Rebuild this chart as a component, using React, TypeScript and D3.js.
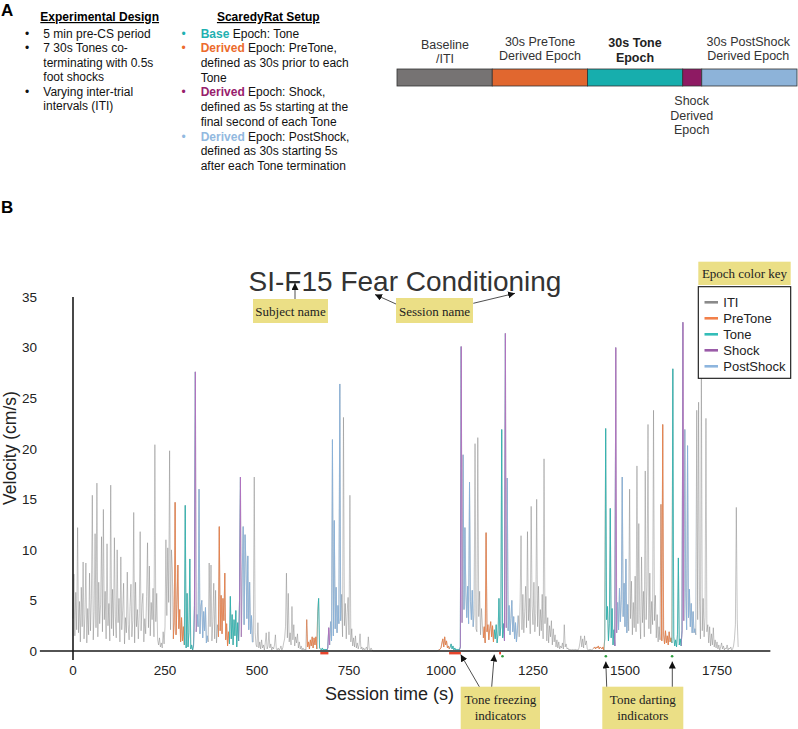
import React from 'react';
import * as d3 from 'd3';

// ---------------- DATA ----------------
const STEP = 2.5; // seconds between samples
// velocity (cm/s), one value every 2.5 s
const vel0000 = [
  3.2, 7.6, 1.5, 5.8, 2.1, 12.2, 1.8, 4.9, 0.9, 6.3,
  2.4, 8.8, 1.2, 3.6, 8.7, 0.8, 4.2, 1.6, 7.7, 2.0,
  5.1, 15.4, 1.1, 3.9, 11.6, 2.3, 16.6, 1.4, 6.8, 2.7,
  4.6, 11.3, 1.9, 14.0, 3.1, 5.9, 1.2, 10.6, 2.5, 4.7,
  1.0, 16.4, 2.2, 6.1, 1.5, 11.2, 3.4, 1.3, 10.0, 2.8,
  5.2, 0.9, 9.3, 2.1, 4.0, 6.7, 0.7, 3.3, 1.8, 7.8,
  2.6, 1.1, 4.4, 6.6, 1.4, 3.0, 13.7, 0.8, 6.8, 2.4,
  4.1, 1.2, 3.7, 11.8, 2.0, 4.6, 5.7, 0.9, 3.2, 1.7,
  5.4, 10.7, 2.3, 8.4, 1.5, 4.8, 3.1, 6.2, 1.4, 20.4,
  2.9, 5.7, 1.1, 0.6, 1.3, 0.4, 0.8, 0.3, 1.9, 0.7,
];
const vel0250 = [
  2.4, 11.0, 3.5, 10.2, 4.8, 19.8, 2.1, 10.0, 7.9, 1.2,
  2.8, 14.7, 1.6, 4.6, 8.5, 2.2, 4.1, 0.9, 3.3, 1.0,
  2.4, 0.6, 14.4, 0.3, 5.7, 0.4, 1.8, 9.1, 0.2, 0.6,
  0.1, 0.5, 4.5, 27.6, 1.9, 3.6, 2.4, 16.0, 1.7, 4.4,
  5.0, 1.3, 3.9, 2.0, 4.3, 0.8, 1.5, 0.9, 8.7, 2.4,
  8.5, 1.0, 2.9, 6.7, 1.2, 6.0, 0.8, 2.6, 1.4, 12.3,
  2.0, 5.5, 1.7, 5.2, 3.0, 7.7, 1.1, 2.7, 0.5, 1.9,
  0.7, 5.4, 1.2, 3.6, 0.6, 3.1, 1.5, 4.0, 0.4, 2.8,
  1.0, 5.0, 17.2, 1.4, 7.9, 12.3, 2.6, 11.5, 8.6, 3.2,
  9.4, 2.1, 6.8, 1.7, 3.5, 0.9, 0.9, 17.2, 1.8, 0.6,
];
const vel0500 = [
  0.4, 2.8, 0.3, 0.9, 0.2, 1.1, 0.3, 0.6, 0.1, 0.8,
  1.8, 0.2, 0.5, 1.9, 0.3, 0.7, 0.1, 0.4, 0.2, 0.6,
  1.6, 0.2, 0.1, 0.3, 0.1, 0.2, 0.5, 0.1, 0.3, 0.8,
  1.2, 2.4, 7.7, 1.3, 5.7, 0.9, 1.8, 0.6, 4.4, 1.1,
  2.6, 0.5, 1.4, 0.8, 1.7, 0.3, 0.9, 0.2, 0.5, 0.1,
  0.3, 0.1, 0.2, 0.1, 3.1, 0.4, 0.9, 0.2, 1.1, 0.5,
  1.4, 0.3, 1.3, 0.6, 1.4, 0.2, 3.9, 5.2, 0.3, 0.2,
  0.1, 0.3, 0.1, 0.2, 0.1, 0.2, 0.1, 0.3, 2.3, 0.6,
  2.9, 1.0, 20.9, 1.5, 12.9, 2.2, 6.3, 1.8, 4.5, 2.7,
  26.4, 3.0, 5.6, 1.4, 23.1, 2.5, 4.7, 1.2, 3.8, 5.3,
];
const vel0750 = [
  1.6, 15.4, 0.9, 2.2, 0.5, 1.3, 0.4, 1.5, 0.3, 0.8,
  0.2, 0.6, 1.7, 0.2, 0.4, 0.1, 0.3, 0.1, 0.2, 0.4,
  0.1, 1.4, 0.2, 0.1, 0.3, 0.1, 0, 0, 0, 0,
  0, 0, 0, 0, 0, 0, 0, 0, 0, 0,
  0, 0, 0, 0, 0, 0, 0, 0, 0, 0,
  0, 0, 0, 0, 0, 0, 0, 0, 0, 0,
  0, 0, 0, 0, 0, 0, 0, 0, 0, 0,
  0, 0, 0, 0, 0, 0, 0, 0, 0, 0,
  0, 0, 0, 0, 0, 0, 0, 0, 0, 0,
  0, 0, 0, 0, 0, 0, 0, 0.1, 0.1, 0.2,
];
const vel1000 = [
  0.3, 0.8, 1.2, 0.4, 1.4, 0.6, 1.0, 0.3, 0.5, 0.2,
  0.4, 0.7, 0.2, 0.5, 0.1, 0.3, 0.1, 0.2, 0.1, 0.2,
  0.1, 0.4, 30.1, 2.8, 19.4, 4.1, 12.2, 5.8, 3.3, 6.4,
  2.7, 16.7, 4.9, 3.1, 6.0, 2.4, 3.6, 20.5, 2.2, 1.9,
  21.1, 3.4, 5.9, 1.6, 4.2, 2.5, 1.3, 2.4, 0.8, 11.7,
  1.9, 2.6, 1.1, 2.2, 2.9, 1.4, 2.5, 0.9, 2.1, 1.2,
  2.6, 0.8, 1.7, 5.2, 1.5, 2.4, 21.9, 1.3, 2.7, 1.0,
  31.4, 2.3, 17.1, 2.0, 4.5, 1.6, 3.2, 5.0, 1.9, 3.4,
  1.2, 2.8, 0.9, 2.0, 3.5, 1.4, 4.8, 11.4, 2.1, 5.6,
  1.8, 3.9, 6.4, 2.3, 11.8, 3.0, 5.2, 1.7, 14.3, 4.4,
];
const vel1250 = [
  2.6, 6.8, 1.9, 3.7, 15.0, 2.4, 6.4, 1.5, 4.1, 2.0,
  5.6, 1.2, 19.0, 2.7, 5.4, 1.0, 3.3, 0.8, 2.5, 1.4,
  3.0, 0.6, 2.2, 0.9, 1.6, 0.4, 1.1, 0.3, 0.9, 0.2,
  0.5, 0.3, 0.8, 0.2, 2.6, 0.4, 0.7, 0.2, 0.3, 0.1,
  0.2, 0.1, 0.1, 0.2, 0.1, 0.1, 0.2, 0.1, 0.1, 0.1,
  0.3, 0.8, 1.5, 0.4, 1.2, 0.3, 1.5, 0.6, 1.0, 0.2,
  0.1, 0.1, 0.2, 0.1, 0.1, 0.2, 0.3, 0.4, 0.2, 0.4,
  0.3, 0.5, 0.2, 0.4, 0.3, 0.2, 0.4, 0.1, 1.2, 22.0,
  3.1, 4.4, 1.0, 2.7, 14.1, 1.3, 4.2, 0.6, 2.1, 0.5,
  30.0, 1.8, 4.8, 2.1, 6.2, 2.9, 5.1, 17.2, 3.4, 6.7,
];
const vel1500 = [
  2.4, 9.1, 1.8, 4.6, 2.0, 16.0, 3.2, 6.9, 1.6, 4.8,
  2.3, 7.4, 1.9, 18.3, 2.7, 12.6, 3.5, 1.2, 9.3, 2.8,
  5.9, 1.4, 17.8, 3.1, 6.5, 22.4, 2.2, 7.7, 1.7, 4.9,
  2.6, 23.8, 3.0, 5.5, 1.3, 3.6, 0.9, 2.4, 1.1, 14.5,
  1.0, 22.4, 1.6, 0.7, 2.0, 0.8, 1.5, 0.6, 1.9, 0.9,
  1.3, 0.8, 27.9, 1.4, 0.5, 1.1, 0.4, 1.6, 9.2, 0.6,
  1.2, 0.5, 2.0, 32.5, 3.0, 21.9, 5.8, 2.1, 20.3, 3.3,
  6.1, 2.4, 4.7, 1.8, 3.9, 1.8, 2.2, 1.6, 23.8, 3.1,
  24.6, 4.9, 1.2, 28.5, 2.0, 5.2, 1.4, 3.3, 23.0, 1.9,
  2.6, 0.8, 2.4, 0.5, 1.7, 0.6, 2.3, 0.4, 1.1, 0.3,
];
const vel1750 = [
  0.9, 0.2, 0.6, 0.1, 0.4, 0.8, 0.2, 0.5, 0.1, 0.3,
  0.2, 0.6, 0.1, 0.3, 0.2, 0.4, 0.1, 0.2, 0.5, 1.2,
  2.6, 14.2, 3.1, 0.4,
];
const velocity = [...vel0000, ...vel0250, ...vel0500, ...vel0750, ...vel1000, ...vel1250, ...vel1500, ...vel1750];

const toneOnsets = [301.5, 424, 664, 1024, 1144, 1444, 1626.5];
const epochNames = ['PreTone', 'Tone', 'PostShock', 'Shock'];
const epochStart = [-30, 0, 35, 29]; // relative to tone onset (s)
const epochEnd = [0, 30, 65, 34];
const epochColors = ['#f07a3e', '#22b4af', '#86b2df', '#b070c0'];
const epochOpacity = [0.8, 0.8, 0.8, 1];

const legendLabels = ['ITI', 'PreTone', 'Tone', 'Shock', 'PostShock'];
const legendColors = ['#8a8a8a', '#f2804a', '#33bdb8', '#9a5ba8', '#8db5de'];

const freezingBouts = [[672, 694], [1022, 1054], [1158, 1163]];
const dartingTimes = [1167, 1448, 1628];

const xTicks = [0, 250, 500, 750, 1000, 1250, 1500, 1750];
const yTicks = [0, 5, 10, 15, 20, 25, 30, 35];
const xAxisExtent = [-90, 1895];
const yAxisExtent = [-0.9, 35];

// epoch bar schematic (relative widths)
const barWidths = [30, 30, 30, 6, 30];
const barColors = ['#767373', '#e1672f', '#17aead', '#8e1a63', '#8db3d9'];

const designLines = [
  { b: true, t: '5 min pre-CS period' },
  { b: true, t: '7 30s Tones co-' },
  { b: false, t: 'terminating with 0.5s' },
  { b: false, t: 'foot shocks' },
  { b: true, t: 'Varying inter-trial' },
  { b: false, t: 'intervals (ITI)' },
];
const setupLines = [
  { c: '#1fb1b1', lead: 'Base', t: ' Epoch: Tone' },
  { c: '#ec6b2d', lead: 'Derived', t: ' Epoch: PreTone,' },
  { c: null, lead: '', t: 'defined as 30s prior to each' },
  { c: null, lead: '', t: 'Tone' },
  { c: '#98206c', lead: 'Derived', t: ' Epoch: Shock,' },
  { c: null, lead: '', t: 'defined as 5s starting at the' },
  { c: null, lead: '', t: 'final second of each Tone' },
  { c: '#92b9e0', lead: 'Derived', t: ' Epoch: PostShock,' },
  { c: null, lead: '', t: 'defined as 30s starting 5s' },
  { c: null, lead: '', t: 'after each Tone termination' },
];

// ---------------- CHART ----------------
const SANS = '"Liberation Sans", Arial, Helvetica, sans-serif';
const SERIF = '"Liberation Serif", "Times New Roman", serif';
const YELLOW = '#ebdf86';

export default function App() {
  const x = d3.scaleLinear().domain([0, 1750]).range([73, 717]);
  const y = d3.scaleLinear().domain([0, 35]).range([651, 297]);
  const line = d3.line<number>().x((_, i) => x(i * STEP)).y((d) => y(d));
  const tracePath = line(velocity) || '';

  const barX = d3.scaleLinear().domain([0, d3.sum(barWidths)]).range([397, 797]);
  const barCum = barWidths.map((_, i) => d3.sum(barWidths.slice(0, i)));

  // clip window for an epoch; the shock window is padded by one sample on its leading side
  const clipRange = (on: number, k: number): [number, number] => {
    const pad = epochNames[k] === 'Shock' ? STEP : 0;
    return [x(on + epochStart[k] - pad), x(on + epochEnd[k])];
  };

  const annBox = (x0: number, y0: number, w: number, h: number, lines: string[], baselines: number[]) => (
    <g>
      <rect x={x0} y={y0} width={w} height={h} fill={YELLOW} />
      {lines.map((l, i) => (
        <text key={i} x={x0 + w / 2} y={baselines[i]} textAnchor="middle" fontFamily={SERIF} fontSize={13} fill="#222">{l}</text>
      ))}
    </g>
  );
  const arrow = (x1: number, y1: number, x2: number, y2: number, k: string) => (
    <line key={k} x1={x1} y1={y1} x2={x2} y2={y2} stroke="#222" strokeWidth={0.8} markerEnd="url(#ah)" />
  );

  return (
    <svg width={798} height={729} style={{ position: 'absolute', left: 0, top: 0, background: '#fff' }}>
      <defs>
        <marker id="ah" viewBox="0 0 10 10" refX="10" refY="5" markerWidth="7" markerHeight="7" markerUnits="userSpaceOnUse" orient="auto">
          <path d="M0,0 L10,5 L0,10 z" fill="#111" />
        </marker>
        {epochNames.map((n, k) => (
          <clipPath id={`clip-${n}`} key={n}>
            {toneOnsets.map((on, j) => {
              const [a, b] = clipRange(on, k);
              return <rect key={j} x={a} y={0} width={b - a} height={729} />;
            })}
          </clipPath>
        ))}
      </defs>

      {/* ---------- Panel A ---------- */}
      <text x={1} y={16} fontFamily={SANS} fontWeight="bold" fontSize={17}>A</text>
      <text x={99.7} y={21} textAnchor="middle" fontFamily={SANS} fontWeight="bold" fontSize={12} style={{ textDecoration: 'underline' }}>Experimental Design</text>
      {designLines.map((l, i) => (
        <g key={i}>
          {l.b && <text x={25} y={37.5 + i * 14.5} fontFamily={SANS} fontSize={12} fill="#111">•</text>}
          <text x={43.3} y={37.5 + i * 14.5} fontFamily={SANS} fontSize={12} fill="#111">{l.t}</text>
        </g>
      ))}
      <text x={268.3} y={21} textAnchor="middle" fontFamily={SANS} fontWeight="bold" fontSize={12} style={{ textDecoration: 'underline' }}>ScaredyRat Setup</text>
      {setupLines.map((l, i) => (
        <g key={i}>
          {l.c && <text x={181.5} y={37.6 + i * 14.7} fontFamily={SANS} fontSize={12} fill={l.c}>•</text>}
          <text x={200.7} y={37.6 + i * 14.7} fontFamily={SANS} fontSize={12} fill="#111">
            {l.lead && <tspan fill={l.c || '#111'} fontWeight="bold">{l.lead}</tspan>}
            <tspan>{l.t}</tspan>
          </text>
        </g>
      ))}

      {/* epoch schematic */}
      {barWidths.map((w, i) => (
        <rect key={i} x={barX(barCum[i])} y={69} width={barX(w) - barX(0)} height={17} fill={barColors[i]} stroke="#333" strokeWidth={0.8} />
      ))}
      <g fontFamily={SANS} fontSize={12.5} fill="#333" textAnchor="middle">
        <text x={445} y={48.5}>Baseline</text>
        <text x={445} y={62.5}>/ITI</text>
        <text x={540} y={45.5}>30s PreTone</text>
        <text x={540} y={60}>Derived Epoch</text>
        <text x={635} y={47} fontWeight="bold" fill="#222">30s Tone</text>
        <text x={635} y={61.5} fontWeight="bold" fill="#222">Epoch</text>
        <text x={748.3} y={45.5}>30s PostShock</text>
        <text x={748.3} y={60}>Derived Epoch</text>
        <text x={691.7} y={105}>Shock</text>
        <text x={691.7} y={119.5}>Derived</text>
        <text x={691.7} y={134}>Epoch</text>
      </g>

      {/* ---------- Panel B ---------- */}
      <text x={1} y={213} fontFamily={SANS} fontWeight="bold" fontSize={17}>B</text>
      <text x={405} y={291} textAnchor="middle" fontFamily={SANS} fontSize={28} fill="#333">SI-F15 Fear Conditioning</text>

      {/* traces */}
      <path d={tracePath} fill="none" stroke="#7a7a7a" strokeOpacity={0.55} strokeWidth={0.8} strokeLinejoin="round" />
      {epochNames.map((n, k) => (
        <path key={n} d={tracePath} fill="none" stroke={epochColors[k]} strokeOpacity={epochOpacity[k]} strokeWidth={0.9} strokeLinejoin="round" clipPath={`url(#clip-${n})`} />
      ))}

      {/* axes */}
      <line x1={x(xAxisExtent[0])} x2={x(xAxisExtent[1])} y1={y(0)} y2={y(0)} stroke="#1a1a1a" strokeWidth={1.6} />
      <line x1={x(0)} x2={x(0)} y1={y(yAxisExtent[0])} y2={y(yAxisExtent[1])} stroke="#1a1a1a" strokeWidth={1.6} />
      {xTicks.map((t) => (
        <text key={t} x={x(t)} y={674.5} textAnchor="middle" fontFamily={SANS} fontSize={13.5} fill="#222">{t}</text>
      ))}
      {yTicks.map((t) => (
        <text key={t} x={37} y={y(t) + 4.8} textAnchor="end" fontFamily={SANS} fontSize={13.5} fill="#222">{t}</text>
      ))}
      <text transform="translate(16,448) rotate(-90)" textAnchor="middle" fontFamily={SANS} fontSize={17.5} fill="#222">Velocity (cm/s)</text>
      <text x={389.5} y={700} textAnchor="middle" fontFamily={SANS} fontSize={18} fill="#222">Session time (s)</text>

      {/* freezing / darting indicators */}
      {freezingBouts.map((b, i) => (
        <rect key={i} x={x(b[0])} y={652} width={x(b[1]) - x(b[0])} height={2.4} fill="#e8452c" />
      ))}
      {dartingTimes.map((t, i) => (
        <circle key={i} cx={x(t)} cy={656.3} r={1.3} fill="#2e9e3e" />
      ))}

      {/* legend */}
      <rect x={698.3} y={261.7} width={92.4} height={23.3} fill={YELLOW} />
      <text x={744.5} y={277.5} textAnchor="middle" fontFamily={SERIF} fontSize={13} fill="#222">Epoch color key</text>
      <rect x={698.3} y={286.7} width={92.4} height={91.6} fill="#fff" stroke="#111" strokeWidth={1.1} />
      {legendLabels.map((l, i) => (
        <g key={l}>
          <line x1={704.5} x2={718} y1={302.3 + i * 16} y2={302.3 + i * 16} stroke={legendColors[i]} strokeWidth={2.6} />
          <text x={723.3} y={306.8 + i * 16} fontFamily={SANS} fontSize={13} fill="#222">{l}</text>
        </g>
      ))}

      {/* annotations */}
      {annBox(253, 299, 75, 24, ['Subject name'], [316])}
      {arrow(295, 299, 295, 283, 'a1')}
      {annBox(396, 298, 77, 25, ['Session name'], [316])}
      {arrow(396, 304, 375, 294.5, 'a2')}
      {arrow(473.3, 303.3, 515, 293.3, 'a3')}
      {annBox(460.7, 686.7, 79.3, 42.3, ['Tone freezing', 'indicators'], [704, 720])}
      {arrow(479.3, 686.7, 460.7, 654.5, 'a4')}
      {arrow(491.7, 686.7, 494.3, 654.5, 'a5')}
      {annBox(602.3, 686.7, 81, 42.3, ['Tone darting', 'indicators'], [704, 720])}
      {arrow(606.7, 686.7, 605.8, 661.5, 'a6')}
      {arrow(672.3, 686.7, 672.3, 661.5, 'a7')}
    </svg>
  );
}
